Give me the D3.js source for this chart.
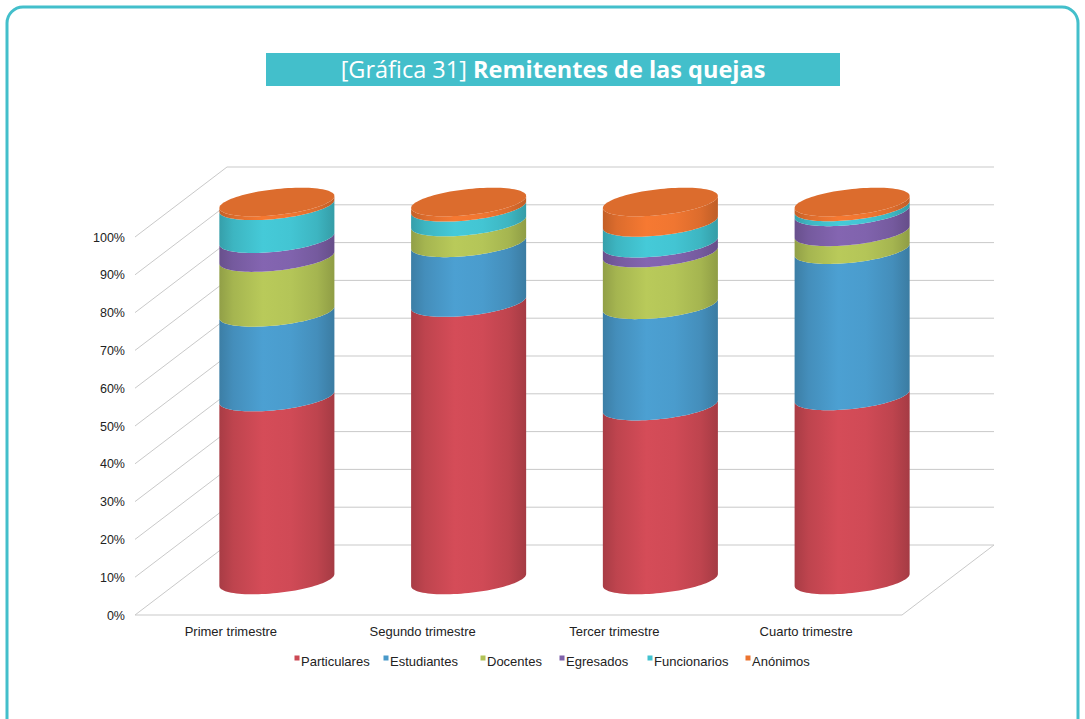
<!DOCTYPE html>
<html>
<head>
<meta charset="utf-8">
<script src="https://cdn.jsdelivr.net/npm/d3@7"></script>
<style>
  html, body { margin: 0; padding: 0; background: #ffffff; }
  svg { display: block; }
</style>
</head>
<body>
<svg id="chart" width="1085" height="719"></svg>
<script>
// Quarterly breakdown of who filed the complaints (100% stacked)
const categories = ["Primer trimestre", "Segundo trimestre", "Tercer trimestre", "Cuarto trimestre"];
const seriesNames = ["Particulares", "Estudiantes", "Docentes", "Egresados", "Funcionarios", "Anónimos"];
const seriesColors = ["#cc4954", "#4999c9", "#b1c256", "#7e61aa", "#42c2cf", "#ec7430"];

const particulares = [48.4, 73.4, 46.0, 48.7];
const estudiantes  = [22.4, 15.8, 26.8, 38.7];
const docentes     = [14.5,  5.5, 13.7,  4.7];
const egresados    = [ 5.0,  0.0,  2.6,  5.3];
const funcionarios = [ 8.7,  3.9,  5.5,  1.3];
const anonimos     = [ 1.0,  1.4,  5.4,  1.3];

const yTicks = [0, 10, 20, 30, 40, 50, 60, 70, 80, 90, 100];

const seriesValues = [particulares, estudiantes, docentes, egresados, funcionarios, anonimos];
const rows = categories.map((c, i) => {
  const r = { category: c };
  seriesNames.forEach((s, j) => { r[s] = seriesValues[j][i]; });
  return r;
});
const stacked = d3.stack().keys(seriesNames).offset(d3.stackOffsetExpand)(rows);

const svg = d3.select("#chart");
const labelFont = "'Liberation Sans', Arial, sans-serif";

// outer frame
svg.append("rect")
  .attr("x", 7).attr("y", 7)
  .attr("width", 1071).attr("height", 760)
  .attr("rx", 16).attr("ry", 16)
  .attr("fill", "none")
  .attr("stroke", "#43bfcb")
  .attr("stroke-width", 3);

// title banner
svg.append("rect")
  .attr("x", 266).attr("y", 53).attr("width", 574).attr("height", 33)
  .attr("fill", "#43bfcb");
const title = svg.append("text")
  .attr("x", 553).attr("y", 77.5)
  .attr("text-anchor", "middle")
  .attr("fill", "#ffffff")
  .style("font-family", "'Open Sans', Lato, sans-serif")
  .style("font-size", "23.5px");
title.append("tspan").text("[Gráfica 31] ");
title.append("tspan").attr("font-weight", "bold").text("Remitentes de las quejas");

// plot geometry: front plane + receding depth
const x = d3.scaleBand().domain(categories).range([135, 902]).padding(0);
const y = d3.scaleLinear().domain([0, 100]).range([615, 237]);
const depth = { dx: 92, dy: -70 };
const gridColor = "#c9c9c9";

const grid = svg.append("g").attr("fill", "none").attr("stroke", gridColor).attr("stroke-width", 1);
const x0 = x.range()[0], x1 = x.range()[1];

// back wall lines and side-wall diagonals
yTicks.forEach(t => {
  const yf = y(t);
  grid.append("line")
    .attr("x1", x0).attr("y1", yf)
    .attr("x2", x0 + depth.dx).attr("y2", yf + depth.dy);
  grid.append("line")
    .attr("x1", x0 + depth.dx).attr("y1", yf + depth.dy)
    .attr("x2", x1 + depth.dx).attr("y2", yf + depth.dy);
});
// floor front and right edges
grid.append("line")
  .attr("x1", x0).attr("y1", y(0)).attr("x2", x1).attr("y2", y(0));
grid.append("line")
  .attr("x1", x1).attr("y1", y(0)).attr("x2", x1 + depth.dx).attr("y2", y(0) + depth.dy);

// y axis labels
const yAxis = d3.axisLeft(y).tickValues(yTicks).tickFormat(d => d + "%").tickSize(0).tickPadding(10);
const yg = svg.append("g").attr("transform", `translate(${x0},0)`).call(yAxis);
yg.select(".domain").remove();
yg.selectAll("text")
  .style("font-family", labelFont)
  .style("font-size", "12.5px")
  .attr("fill", "#222");

// category labels
const xAxis = d3.axisBottom(x).tickSize(0).tickPadding(12);
const xg = svg.append("g").attr("transform", `translate(0,${y(0)})`).call(xAxis);
xg.select(".domain").remove();
xg.selectAll("text")
  .style("font-family", labelFont)
  .style("font-size", "13px")
  .attr("fill", "#222");

// side shading gradients
const defs = svg.append("defs");
seriesColors.forEach((col, i) => {
  const c = d3.color(col);
  const g = defs.append("linearGradient").attr("id", "grad" + i)
    .attr("x1", "0%").attr("x2", "100%").attr("y1", "0%").attr("y2", "0%");
  [[0, c.darker(0.55)], [0.12, c.darker(0.2)], [0.38, c.brighter(0.12)],
   [0.62, c.brighter(0.05)], [0.85, c.darker(0.2)], [1, c.darker(0.6)]]
    .forEach(([o, cc]) => g.append("stop").attr("offset", o).attr("stop-color", cc.formatHex()));
});

// cylinder cross-section: sheared ellipse around the axis at mid depth
const radius = x.bandwidth() * 0.3;
const ellB = 13, ellShear = -6;
function ellipsePoint(cx, cy, t) {
  return [cx + radius * Math.cos(t), cy + ellB * Math.sin(t) + ellShear * Math.cos(t)];
}
function arc(cx, cy, t0, t1, n = 48) {
  return d3.range(n + 1).map(k => ellipsePoint(cx, cy, t0 + (t1 - t0) * k / n));
}
const line = d3.line();

const cyl = svg.append("g");
categories.forEach((cat, i) => {
  const cx = x(cat) + x.bandwidth() / 2 + depth.dx / 2;
  const yMid = v => y(v * 100) + depth.dy / 2;
  stacked.forEach((layer, j) => {
    const [v0, v1] = layer[i];
    if (v1 - v0 <= 0) return;
    const top = arc(cx, yMid(v1), 0, Math.PI);
    const bottom = arc(cx, yMid(v0), Math.PI, 0);
    cyl.append("path")
      .attr("d", line(top.concat(bottom)) + "Z")
      .attr("fill", `url(#grad${j})`);
  });
  // top cap in the colour of the uppermost series
  const last = stacked.length - 1;
  const capColor = d3.color(seriesColors[last]).darker(0.2);
  cyl.append("path")
    .attr("d", line(arc(cx, yMid(1), 0, 2 * Math.PI, 96)) + "Z")
    .attr("fill", capColor.formatHex());
});

// legend
const legendOffsets = [0, 89, 186, 265, 353, 451];
const lg = svg.append("g");
seriesNames.forEach((s, j) => {
  const lx = 297 + legendOffsets[j];
  lg.append("rect")
    .attr("x", lx - 2.5).attr("y", 655.5).attr("width", 5).attr("height", 5)
    .attr("fill", seriesColors[j]);
  lg.append("text")
    .attr("x", lx + 4).attr("y", 666)
    .style("font-family", labelFont)
    .style("font-size", "13px")
    .attr("fill", "#222")
    .text(s);
});
</script>
</body>
</html>
